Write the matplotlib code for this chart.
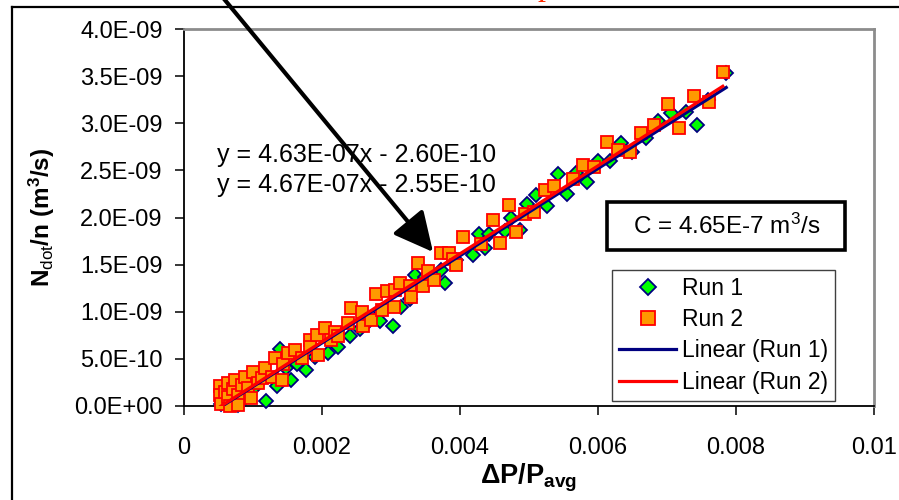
import numpy as np
import matplotlib
matplotlib.use("Agg")
import matplotlib.pyplot as plt
from matplotlib.lines import Line2D
from matplotlib.patches import Rectangle

plt.rcParams['font.family'] = ['Liberation Sans', 'DejaVu Sans']
plt.rcParams['mathtext.fontset'] = 'custom'
plt.rcParams['mathtext.rm'] = 'Liberation Sans'
plt.rcParams['mathtext.it'] = 'Liberation Sans:italic'
plt.rcParams['mathtext.bf'] = 'Liberation Sans:bold'

# ---- measured data: dP/P_avg vs. Ndot/n (y in units of 1e-9 m^3/s) ----
run1_x = [0.00055, 0.00060, 0.00065, 0.00070, 0.00075, 0.00079, 0.00085, 0.00090,
          0.00095, 0.00100, 0.00110, 0.00120, 0.00135, 0.00140, 0.00148, 0.00156,
          0.00165, 0.00178, 0.00190, 0.00209, 0.00224, 0.00241, 0.00255, 0.00268,
          0.00279, 0.00284, 0.00304, 0.00315, 0.00328, 0.00335, 0.00350, 0.00373,
          0.00378, 0.00395, 0.00419, 0.00428, 0.00436, 0.00443, 0.00465, 0.00475,
          0.00487, 0.00497, 0.00511, 0.00526, 0.00542, 0.00556, 0.00569, 0.00585,
          0.00601, 0.00617, 0.00634, 0.00650, 0.00670, 0.00687, 0.00706, 0.00728,
          0.00743, 0.00760, 0.00786]
run1_y = [0.02, 0.05, 0.03, 0.08, 0.12, 0.01, 0.15, 0.10,
          0.20, 0.18, 0.25, 0.05, 0.21, 0.61, 0.40, 0.28,
          0.45, 0.38, 0.52, 0.56, 0.63, 0.74, 0.82, 0.90,
          0.93, 0.90, 0.85, 1.05, 1.13, 1.39, 1.37, 1.44,
          1.31, 1.55, 1.60, 1.82, 1.68, 1.82, 1.86, 1.99,
          1.87, 2.14, 2.24, 2.12, 2.46, 2.25, 2.47, 2.38,
          2.60, 2.60, 2.79, 2.70, 2.84, 3.02, 3.11, 3.12,
          2.98, 3.25, 3.53]

run2_x = [0.00053, 0.00053, 0.00055, 0.00060, 0.00065, 0.00065, 0.00068, 0.00072,
          0.00074, 0.00079, 0.00079, 0.00084, 0.00089, 0.00094, 0.00098, 0.00101,
          0.00108, 0.00113, 0.00118, 0.00128, 0.00132, 0.00142, 0.00144, 0.00152,
          0.00161, 0.00171, 0.00183, 0.00183, 0.00193, 0.00195, 0.00205, 0.00214,
          0.00219, 0.00224, 0.00238, 0.00243, 0.00258, 0.00260, 0.00272, 0.00279,
          0.00287, 0.00294, 0.00305, 0.00306, 0.00313, 0.00328, 0.00329, 0.00340,
          0.00347, 0.00354, 0.00363, 0.00373, 0.00385, 0.00390, 0.00394, 0.00405,
          0.00431, 0.00448, 0.00458, 0.00471, 0.00481, 0.00494, 0.00508, 0.00523,
          0.00537, 0.00564, 0.00579, 0.00595, 0.00613, 0.00629, 0.00647, 0.00663,
          0.00682, 0.00701, 0.00718, 0.00740, 0.00761, 0.00781]
run2_y = [0.21, 0.12, 0.02, 0.15, 0.24, 0.10, 0.00, 0.18,
          0.28, 0.12, 0.01, 0.22, 0.31, 0.19, 0.08, 0.36,
          0.24, 0.30, 0.40, 0.31, 0.51, 0.28, 0.45, 0.56,
          0.59, 0.51, 0.70, 0.63, 0.75, 0.54, 0.83, 0.70,
          0.79, 0.74, 0.88, 1.04, 1.00, 0.85, 0.91, 1.19,
          1.02, 1.22, 1.05, 1.23, 1.30, 1.27, 1.16, 1.52,
          1.27, 1.43, 1.34, 1.62, 1.62, 1.56, 1.50, 1.79,
          1.72, 1.97, 1.73, 2.13, 1.85, 2.04, 2.06, 2.29,
          2.33, 2.41, 2.56, 2.54, 2.80, 2.72, 2.69, 2.90,
          2.98, 3.20, 2.95, 3.29, 3.23, 3.54]

# linear trendline coefficients (slope, intercept) for each run
fit_slope = [4.63e-07, 4.67e-07]
fit_intercept = [-2.60e-10, -2.55e-10]

x_ticks = [0, 0.002, 0.004, 0.006, 0.008, 0.01]
x_tick_labels = ["0", "0.002", "0.004", "0.006", "0.008", "0.01"]
y_ticks = [0.0, 0.5e-9, 1.0e-9, 1.5e-9, 2.0e-9, 2.5e-9, 3.0e-9, 3.5e-9, 4.0e-9]
y_tick_labels = ["%.1E" % v for v in y_ticks]

NANO = 1e-9
W, H = 899, 500

fig = plt.figure(figsize=(W / 100, H / 100), dpi=100)
fig.patch.set_facecolor('white')


def fx(px):
    return px / W


def fy(py):
    return 1 - py / H


ax = fig.add_axes([fx(183.5), fy(406), fx(874) - fx(183.5), fy(29) - fy(406)])

# scatter series
x1 = np.array(run1_x)
y1 = np.array(run1_y) * NANO
x2 = np.array(run2_x)
y2 = np.array(run2_y) * NANO

ax.plot(x1, y1, linestyle='none', marker='D', markersize=7.0,
        markerfacecolor='#00ff00', markeredgecolor='#000080',
        markeredgewidth=1.3, clip_on=False, zorder=3, label='Run 1')
ax.plot(x2, y2, linestyle='none', marker='s', markersize=8.8,
        markerfacecolor='#ff9900', markeredgecolor='#ff0000',
        markeredgewidth=1.3, clip_on=False, zorder=4, label='Run 2')

# trendlines from the fitted equations
line_colors = ['#000080', '#ff0000']
for i, (xs, col) in enumerate(zip([x1, x2], line_colors)):
    xx = np.array([xs.min(), xs.max()])
    ax.plot(xx, fit_slope[i] * xx + fit_intercept[i], color=col, lw=2.3,
            zorder=5 + i, label='Linear (Run %d)' % (i + 1))

ax.set_xlim(0, 0.01)
ax.set_ylim(0, 4.0e-9)
ax.set_xticks(x_ticks)
ax.set_xticklabels(x_tick_labels)
ax.set_yticks(y_ticks)
ax.set_yticklabels(y_tick_labels)
ax.tick_params(axis='both', direction='out', length=6.5, width=1.1,
               labelsize=17, colors='black')
ax.tick_params(axis='y', pad=8.5)
ax.tick_params(axis='x', pad=16)

for side in ['left', 'bottom']:
    ax.spines[side].set_color('black')
    ax.spines[side].set_linewidth(1.3)
for side in ['top', 'right']:
    ax.spines[side].set_color('#8c8c8c')
    ax.spines[side].set_linewidth(2.0)

# axis titles
fig.text(fx(42), fy(217), r"N$_{\mathrm{dot}}$/n (m$^{\mathbf{3}}$/s)",
         rotation=90, ha='center', va='center', fontsize=17.5, fontweight='bold')
fig.text(fx(528), fy(478), r"$\mathbf{\Delta}$P/P$_{\mathbf{avg}}$",
         ha='center', va='center', fontsize=19.5, fontweight='bold')

# trendline equations
fig.text(fx(217), fy(155), "y = 4.63E-07x - 2.60E-10", ha='left', va='center',
         fontsize=18)
fig.text(fx(217), fy(185), "y = 4.67E-07x - 2.55E-10", ha='left', va='center',
         fontsize=18)

# constant annotation box
fig.patches.append(Rectangle((fx(607), fy(250)), fx(845) - fx(607), fy(202) - fy(250),
                             transform=fig.transFigure, facecolor='white',
                             edgecolor='black', linewidth=2.6, zorder=10))
fig.text(fx(727), fy(226), r"C = 4.65E-7 m$^3$/s", ha='center', va='center',
         fontsize=17.5, zorder=11)

# legend
leg = ax.legend(loc='upper left', bbox_to_anchor=(fx(612), fy(270)),
                bbox_transform=fig.transFigure, fontsize=16.5, frameon=True,
                fancybox=False, edgecolor='#404040', borderpad=0.3,
                labelspacing=0.36, handlelength=2.5, handletextpad=0.25,
                borderaxespad=0, framealpha=1, markerscale=1.1)
leg.get_frame().set_linewidth(1.0)

# outer chart frame
fig.add_artist(Line2D([fx(12), 1.0], [fy(7), fy(7)], transform=fig.transFigure,
                      color='black', lw=1.6))
fig.add_artist(Line2D([fx(12), fx(12)], [fy(7), 0.0], transform=fig.transFigure,
                      color='black', lw=1.6))

# heading above the chart (only its lowest stroke lies inside the frame)
fig.text(fx(537), fy(-5.5), "p", ha='left', va='baseline', fontsize=23,
         family='Liberation Serif', color='#ff2a00')

# pointer arrow toward the trendlines
ax.annotate('', xy=(fx(433), fy(252)), xycoords='figure fraction',
            xytext=(fx(215), fy(-12)), textcoords='figure fraction',
            arrowprops=dict(arrowstyle='-|>,head_length=0.6,head_width=0.3',
                            mutation_scale=40, lw=3.0, color='black',
                            shrinkA=0, shrinkB=0),
            annotation_clip=False, zorder=20)

fig.savefig('out.png', dpi=100)
